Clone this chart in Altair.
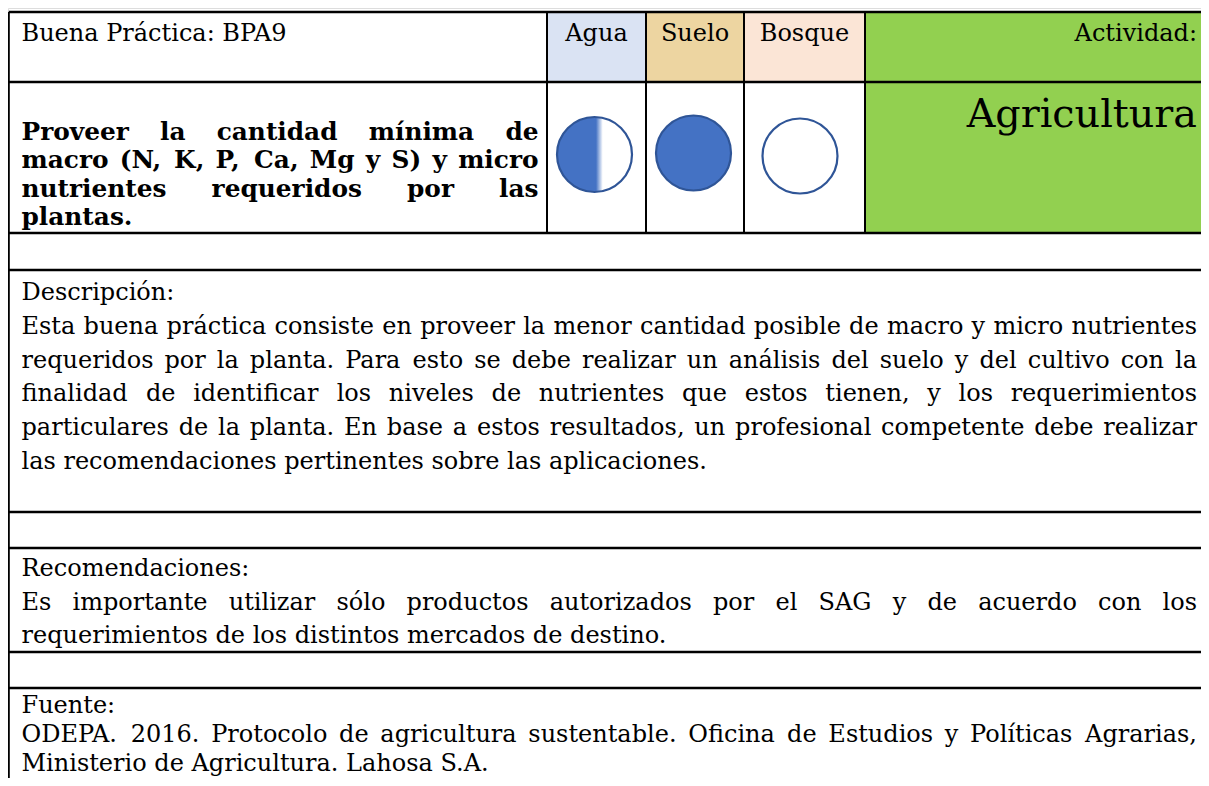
import os
import struct
import altair as alt
import pandas as pd

# ---------------- content ----------------
practice_label = "Buena Práctica: BPA9"
resources = ["Agua", "Suelo", "Bosque"]
resource_colors = ["#dae3f3", "#edd5a1", "#fbe5d6"]
impact_levels = [0.5, 1.0, 0.0]          # half / full / none
activity_label = "Actividad:"
activity = "Agricultura"
activity_color = "#92d050"

title_lines = [
    "Proveer la cantidad mínima de",
    "macro (N, K, P, Ca, Mg y S) y micro",
    "nutrientes requeridos por las",
    "plantas.",
]
desc_header = "Descripción:"
desc_lines = [
    "Esta buena práctica consiste en proveer la menor cantidad posible de macro y micro nutrientes",
    "requeridos por la planta. Para esto se debe realizar un análisis del suelo y del cultivo con la",
    "finalidad de identificar los niveles de nutrientes que estos tienen, y los requerimientos",
    "particulares de la planta. En base a estos resultados, un profesional competente debe realizar",
    "las recomendaciones pertinentes sobre las aplicaciones.",
]
rec_header = "Recomendaciones:"
rec_lines = [
    "Es importante utilizar sólo productos autorizados por el SAG y de acuerdo con los",
    "requerimientos de los distintos mercados de destino.",
]
src_header = "Fuente:"
src_lines = [
    "ODEPA. 2016. Protocolo de agricultura sustentable. Oficina de Estudios y Políticas Agrarias,",
    "Ministerio de Agricultura. Lahosa S.A.",
]

# ---------------- layout (page pixels) ----------------
X_DOMAIN = [8, 1201]
Y_DOMAIN = [8, 778]
col_edges = [8.8, 547, 646, 744, 865, 1215]
row_edges = [12, 82, 233, 270, 512, 548, 652, 688]
table_bottom = 795
text_left = 21.5
text_right = 1197
title_right = 538.5
header_base = 41
title_base0, title_step = 140, 28.33
desc_base0, desc_step = 300, 33.8
rec_base0, rec_step = 576, 33.5
src_base0, src_step = 713, 29
activity_base = 127
circle_y = [154.5, 153, 156]
circle_dx = [-2, -1.5, -4.5]
FONT = "DejaVu Serif"
BODY_SIZE = 24.0
TITLE_SIZE = 24.8
BIG_SIZE = 39.7


# ---------------- font metrics for justification ----------------
def find_font(name):
    for root in ["/usr/share/fonts", "/usr/local/share/fonts", os.path.expanduser("~/.fonts")]:
        for dp, _, files in os.walk(root):
            if name in files:
                return os.path.join(dp, name)
    return None


def load_metrics(path):
    try:
        data = open(path, "rb").read()
        n = struct.unpack(">H", data[4:6])[0]
        tables = {}
        for i in range(n):
            tag, _, off, ln = struct.unpack(">4sIII", data[12 + 16 * i:28 + 16 * i])
            tables[tag.decode("latin1")] = off
        upem = struct.unpack(">H", data[tables["head"] + 18:tables["head"] + 20])[0]
        nhm = struct.unpack(">H", data[tables["hhea"] + 34:tables["hhea"] + 36])[0]
        hm = tables["hmtx"]
        adv = [struct.unpack(">H", data[hm + 4 * i:hm + 4 * i + 2])[0] for i in range(nhm)]
        cm = tables["cmap"]
        nsub = struct.unpack(">H", data[cm + 2:cm + 4])[0]
        sub = None
        for i in range(nsub):
            pid, eid, off = struct.unpack(">HHI", data[cm + 4 + 8 * i:cm + 12 + 8 * i])
            fmt = struct.unpack(">H", data[cm + off:cm + off + 2])[0]
            if fmt == 4 and (pid == 3 or pid == 0):
                sub = cm + off
                break
        segx2 = struct.unpack(">H", data[sub + 6:sub + 8])[0]
        segs = segx2 // 2
        o_end = sub + 14
        o_start = o_end + segx2 + 2
        o_delta = o_start + segx2
        o_ro = o_delta + segx2
        ends = struct.unpack(">%dH" % segs, data[o_end:o_end + segx2])
        starts = struct.unpack(">%dH" % segs, data[o_start:o_start + segx2])
        deltas = struct.unpack(">%dh" % segs, data[o_delta:o_delta + segx2])
        ros = struct.unpack(">%dH" % segs, data[o_ro:o_ro + segx2])

        def glyph(c):
            for i in range(segs):
                if ends[i] >= c:
                    if starts[i] > c:
                        return 0
                    if ros[i] == 0:
                        return (c + deltas[i]) & 0xFFFF
                    a = o_ro + 2 * i + ros[i] + 2 * (c - starts[i])
                    g = struct.unpack(">H", data[a:a + 2])[0]
                    return (g + deltas[i]) & 0xFFFF if g else 0
            return 0

        def width(s, size):
            return sum(adv[min(glyph(ord(ch)), nhm - 1)] for ch in s) * size / upem
        return width
    except Exception:
        return None


reg_path = find_font("DejaVuSerif.ttf")
bold_path = find_font("DejaVuSerif-Bold.ttf")
w_reg = load_metrics(reg_path) if reg_path else None
w_bold = load_metrics(bold_path) if bold_path else None


def line_rows(text, base, size, left, right, justify, measure):
    """Rows for one line; justified lines are split into words."""
    words = text.split(" ")
    if not justify or measure is None or len(words) < 2:
        return [{"t": text, "x": left, "y": base}]
    widths = [measure(w, size) for w in words]
    space = measure(" ", size)
    gap = (right - left - sum(widths)) / (len(words) - 1)
    gap = max(gap, 0.55 * space)
    rows, x = [], left
    for w, wd in zip(words, widths):
        rows.append({"t": w, "x": x, "y": base})
        x += wd + gap
    return rows


def block(lines, base0, step, left, right, size, measure, first=0):
    rows = []
    for i, s in enumerate(lines):
        rows += line_rows(s, base0 + (i + first) * step, size, left, right,
                          i < len(lines) - 1, measure)
    return rows


# ---------------- scales ----------------
x_scale = alt.Scale(domain=X_DOMAIN, zero=False, nice=False)
y_scale = alt.Scale(domain=Y_DOMAIN, zero=False, nice=False, reverse=True)
X = lambda f: alt.X(f"{f}:Q", scale=x_scale, axis=None)
Y = lambda f: alt.Y(f"{f}:Q", scale=y_scale, axis=None)

# ---------------- cell fills ----------------
fills = pd.DataFrame({
    "x": col_edges[1:5],
    "x2": col_edges[2:6],
    "y": [row_edges[0]] * 4,
    "y2": [row_edges[1]] * 3 + [row_edges[2]],
    "c": resource_colors + [activity_color],
})
rects = alt.Chart(fills).mark_rect(strokeWidth=0).encode(
    x=X("x"), x2="x2", y=Y("y"), y2="y2", fill=alt.Fill("c:N", scale=None)
)

# ---------------- grid lines ----------------
hlines = pd.DataFrame({"y": row_edges, "x": [col_edges[0]] * len(row_edges),
                       "x2": [col_edges[-1]] * len(row_edges)})
hrules = alt.Chart(hlines).mark_rule(color="black", strokeWidth=2.5).encode(
    x=X("x"), x2="x2", y=Y("y")
)
vlines = pd.DataFrame({
    "x": col_edges[:5],
    "y": [row_edges[0]] * 5,
    "y2": [table_bottom] + [row_edges[2]] * 4,
})
vrules = alt.Chart(vlines).mark_rule(color="black", strokeWidth=2).encode(
    x=X("x"), y=Y("y"), y2="y2"
)

# ---------------- texts ----------------
centers = [(col_edges[i + 1] + col_edges[i + 2]) / 2 for i in range(3)]
hdr = pd.DataFrame({"x": centers, "y": [header_base] * 3, "t": resources})
hdr_text = alt.Chart(hdr).mark_text(
    font=FONT, fontSize=BODY_SIZE, align="center", baseline="alphabetic", color="black"
).encode(x=X("x"), y=Y("y"), text="t:N")

body = [{"t": practice_label, "x": text_left, "y": header_base}]
for header, lines, y0, step in [(desc_header, desc_lines, desc_base0, desc_step),
                                (rec_header, rec_lines, rec_base0, rec_step),
                                (src_header, src_lines, src_base0, src_step)]:
    body.append({"t": header, "x": text_left, "y": y0})
    body += block(lines, y0, step, text_left, text_right, BODY_SIZE, w_reg, first=1)
body_text = alt.Chart(pd.DataFrame(body)).mark_text(
    font=FONT, fontSize=BODY_SIZE, align="left", baseline="alphabetic", color="black"
).encode(x=X("x"), y=Y("y"), text="t:N")

title_rows = block(title_lines, title_base0, title_step, text_left, title_right,
                   TITLE_SIZE, w_bold)
title_text = alt.Chart(pd.DataFrame(title_rows)).mark_text(
    font=FONT, fontSize=TITLE_SIZE, fontWeight="bold", align="left",
    baseline="alphabetic", color="black"
).encode(x=X("x"), y=Y("y"), text="t:N")

act_df = pd.DataFrame({"t": [activity_label, activity], "y": [header_base, activity_base],
                       "s": [BODY_SIZE, BIG_SIZE], "x": [text_right, text_right]})
act_text = alt.Chart(act_df).mark_text(
    font=FONT, align="right", baseline="alphabetic", color="black"
).encode(x=X("x"), y=Y("y"), text="t:N", size=alt.Size("s:Q", scale=None))

# ---------------- impact circles ----------------
circ = pd.DataFrame({
    "x": [c + d for c, d in zip(centers, circle_dx)],
    "y": circle_y,
    "level": impact_levels,
    "f": ["#4472c4" if v >= 1 else "white" for v in impact_levels],
})
half_fill = alt.LinearGradient(
    gradient="linear", x1=0, x2=1, y1=0, y2=0,
    stops=[alt.GradientStop(color="#4472c4", offset=0),
           alt.GradientStop(color="#4472c4", offset=0.52),
           alt.GradientStop(color="#ffffff", offset=0.61),
           alt.GradientStop(color="#ffffff", offset=1)],
)
circ_half = alt.Chart(circ).transform_filter("datum.level > 0 && datum.level < 1").mark_point(
    shape="circle", filled=True, fill=half_fill, stroke="#2f5597", strokeWidth=2.2,
    size=5625, opacity=1, fillOpacity=1, strokeOpacity=1
).encode(x=X("x"), y=Y("y"))
circ_other = alt.Chart(circ).transform_filter("datum.level == 0 || datum.level == 1").mark_point(
    shape="circle", filled=True, stroke="#2f5597", strokeWidth=2.2,
    size=5625, opacity=1, fillOpacity=1, strokeOpacity=1
).encode(x=X("x"), y=Y("y"), fill=alt.Fill("f:N", scale=None))

chart = alt.layer(
    rects, hrules, vrules, hdr_text, body_text, title_text, act_text, circ_half, circ_other
).properties(
    width=1193, height=770, padding=0, autosize="none",
).configure_view(strokeWidth=0).configure(background="white")

chart.save("out.html", embed_options={"renderer": "svg", "actions": False})
